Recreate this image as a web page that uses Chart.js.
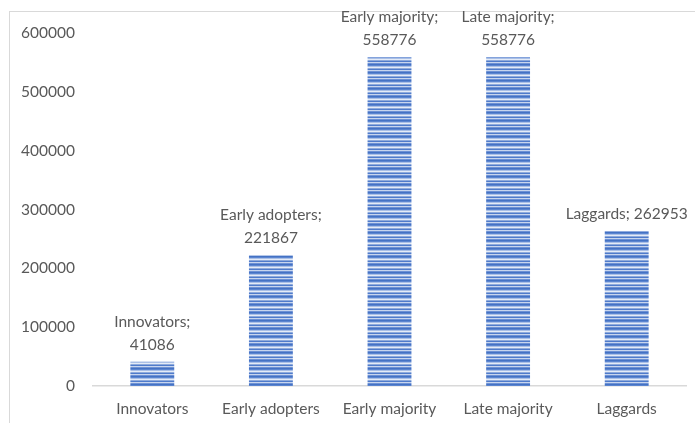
<!DOCTYPE html>
<html>
<head>
<meta charset="utf-8">
<script src="https://cdn.jsdelivr.net/npm/chart.js@4/dist/chart.umd.min.js"></script>
<style>
  html, body { margin: 0; padding: 0; background: #fff; }
  #wrap { position: relative; width: 695px; height: 423px; overflow: hidden; }
  #frame { position: absolute; left: 9px; top: 11px; width: 720px; height: 440px;
           border: 1.5px solid #d9d9d9; box-sizing: border-box; }
  canvas { position: absolute; left: 0; top: 0; }
</style>
</head>
<body>
<div id="wrap">
  <div id="frame"></div>
  <canvas id="c" width="695" height="423"></canvas>
</div>
<script>
// Adopter categories and counts
const categories = ['Innovators', 'Early adopters', 'Early majority', 'Late majority', 'Laggards'];
const adopters = [41086, 221867, 558776, 558776, 262953];
const yTicks = [0, 100000, 200000, 300000, 400000, 500000, 600000];

const FONT = 'Lato, "Open Sans", sans-serif';
const TEXT = '#595959';
const SIZE = 15.5;

// Horizontal stripe fill for the bars
function stripePattern() {
  const rows = ['#4472c4', '#5b85d0', '#a9bfe6', '#e4ebf7', '#8eaadc', '#4f7bcb', '#c7d5ee', '#6d91d5'];
  const c = document.createElement('canvas');
  c.width = 4; c.height = rows.length;
  const g = c.getContext('2d');
  rows.forEach((col, i) => { g.fillStyle = col; g.fillRect(0, i, 4, 1); });
  return g.createPattern(c, 'repeat');
}

// Value labels "Category; value" above each bar
const valueLabels = {
  id: 'valueLabels',
  afterDatasetsDraw(chart) {
    const ctx = chart.ctx;
    const meta = chart.getDatasetMeta(0);
    ctx.save();
    ctx.font = SIZE + 'px ' + FONT;
    ctx.fillStyle = TEXT;
    ctx.textAlign = 'center';
    ctx.textBaseline = 'middle';
    meta.data.forEach((bar, i) => {
      const name = categories[i];
      const val = String(adopters[i]);
      const x = bar.x;
      const base = bar.y - 17;
      if (i === categories.length - 1) {
        ctx.fillText(name + '; ' + val, x, base);
      } else {
        ctx.fillText(name + ';', x, base - 23);
        ctx.fillText(val, x, base);
      }
    });
    ctx.restore();
  }
};

new Chart(document.getElementById('c'), {
  type: 'bar',
  data: {
    labels: categories,
    datasets: [{
      data: adopters,
      backgroundColor: stripePattern(),
      borderWidth: 0,
      barPercentage: 0.74,
      categoryPercentage: 0.5
    }]
  },
  options: {
    responsive: false,
    animation: false,
    devicePixelRatio: 1,
    layout: { padding: { top: 33, right: 9, left: 0, bottom: 0 } },
    plugins: { legend: { display: false }, tooltip: { enabled: false } },
    scales: {
      x: {
        grid: { display: false, drawTicks: false },
        border: { display: true, color: '#d9d9d9', width: 1.5 },
        ticks: { color: TEXT, font: { family: FONT, size: SIZE }, padding: 14, maxRotation: 0 },
        afterFit(s) { s.height = 37; }
      },
      y: {
        min: 0, max: 600000,
        afterBuildTicks(s) { s.ticks = yTicks.map(v => ({ value: v })); },
        grid: { display: false, drawTicks: false },
        border: { display: false },
        ticks: { color: TEXT, font: { family: FONT, size: SIZE }, padding: 18,
                 callback: v => String(v) },
        afterFit(s) { s.width = 93; }
      }
    }
  },
  plugins: [valueLabels]
});
</script>
</body>
</html>
